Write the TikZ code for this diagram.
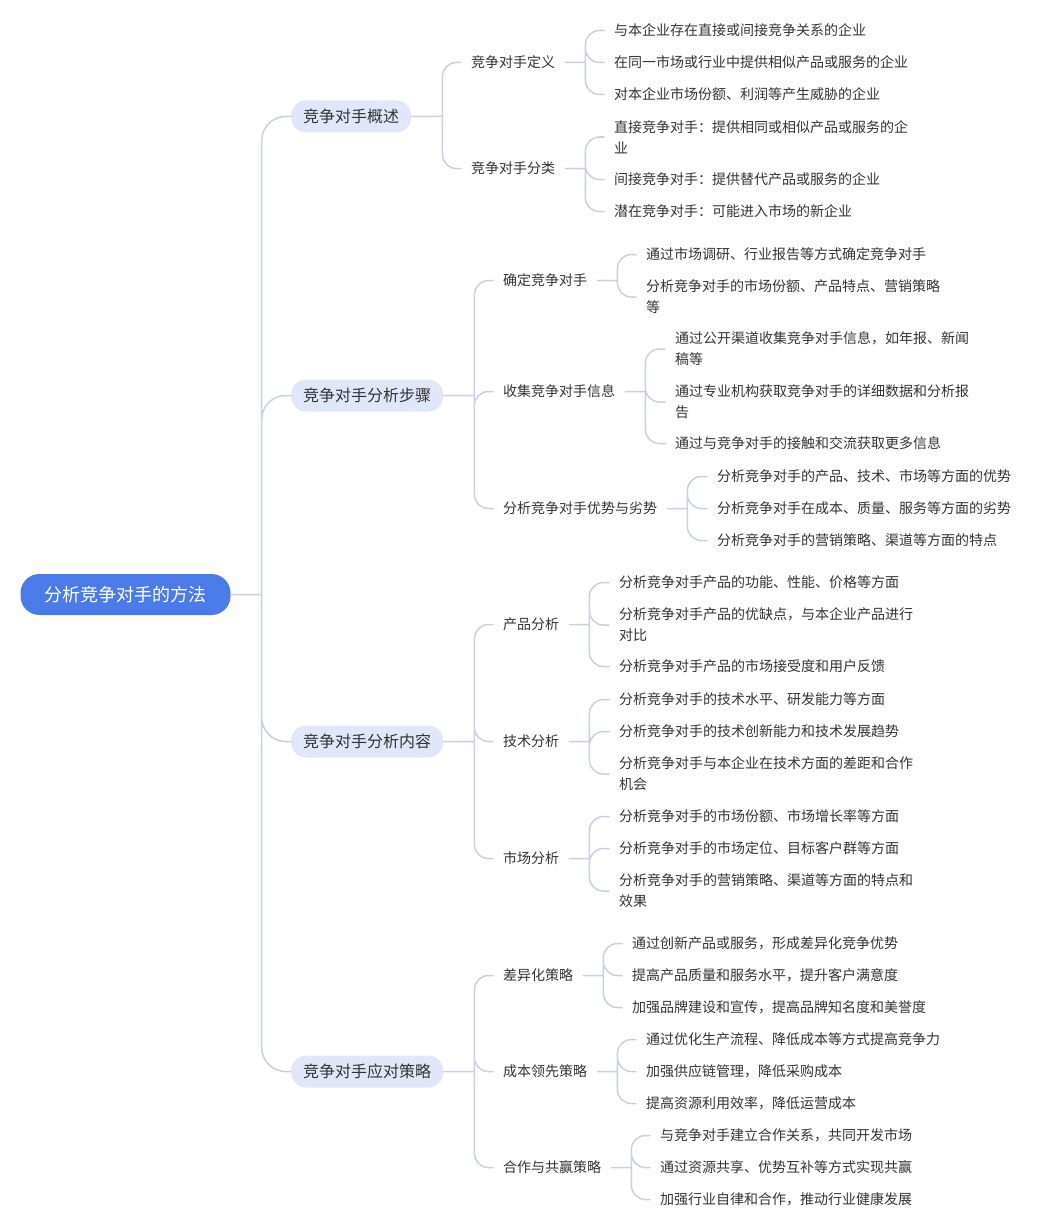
\documentclass[tikz,border=0pt]{standalone}
\usepackage{fontspec}
\setmainfont{Noto Sans CJK SC}
\usetikzlibrary{positioning, calc}
\definecolor{rootblue}{HTML}{4A7BE9}
\definecolor{topicfill}{HTML}{E1E6F9}
\definecolor{linkgray}{HTML}{C9D0E3}
\definecolor{inkgray}{HTML}{333333}

\tikzset{
  rootnode/.style={rounded corners=19pt, fill=rootblue, text=white, minimum height=41pt, inner xsep=24pt, font=\fontsize{18}{22}\selectfont},
  topic/.style={rounded corners=15pt, fill=topicfill, text=inkgray, minimum height=32pt, inner xsep=12pt, anchor=west, font=\fontsize{16}{20}\selectfont},
  subtopic/.style={text=inkgray, inner xsep=10pt, inner ysep=2pt, anchor=west, font=\fontsize{14}{21}\selectfont},
  leaf/.style={text=inkgray, inner xsep=10pt, inner ysep=2pt, anchor=west, align=left, font=\fontsize{14}{21}\selectfont},
  link/.style={draw=linkgray, line width=1.5pt, rounded corners=14pt},
  mainlink/.style={draw=linkgray, line width=1.5pt, rounded corners=24pt}
}

\begin{document}
\begin{tikzpicture}[x=1pt, y=-1pt, line cap=round, line join=round]
  \useasboundingbox (0,0) rectangle (1041,1228);

  % Root
  \node[rootnode] (root) at (125.5,594.5) {分析竞争对手的方法};

  % Main topics
  \node[topic] (ov) at (291,116.5) {竞争对手概述};
  \node[topic] (st) at (291,395.5) {竞争对手分析步骤};
  \node[topic] (ct) at (291,741.5) {竞争对手分析内容};
  \node[topic] (rs) at (291,1071.5) {竞争对手应对策略};

  % Overview
  \node[subtopic] (ovA) at (461,62.5) {竞争对手定义};
  \node[subtopic] (ovB) at (461,168.5) {竞争对手分类};
  \node[leaf] (ovA1) at (604,30.5) {与本企业存在直接或间接竞争关系的企业};
  \node[leaf] (ovA2) at (604,62.5) {在同一市场或行业中提供相似产品或服务的企业};
  \node[leaf] (ovA3) at (604,94.5) {对本企业市场份额、利润等产生威胁的企业};
  \node[leaf] (ovB1) at (604,137) {直接竞争对手：提供相同或相似产品或服务的企\\业};
  \node[leaf] (ovB2) at (604,179.5) {间接竞争对手：提供替代产品或服务的企业};
  \node[leaf] (ovB3) at (604,211.5) {潜在竞争对手：可能进入市场的新企业};

  % Steps
  \node[subtopic] (stA) at (493,280.5) {确定竞争对手};
  \node[subtopic] (stB) at (493,391.5) {收集竞争对手信息};
  \node[subtopic] (stC) at (493,508.5) {分析竞争对手优势与劣势};
  \node[leaf] (stA1) at (636,254.5) {通过市场调研、行业报告等方式确定竞争对手};
  \node[leaf] (stA2) at (636,297) {分析竞争对手的市场份额、产品特点、营销策略\\等};
  \node[leaf] (stB1) at (665,349) {通过公开渠道收集竞争对手信息，如年报、新闻\\稿等};
  \node[leaf] (stB2) at (665,402) {通过专业机构获取竞争对手的详细数据和分析报\\告};
  \node[leaf] (stB3) at (665,443.5) {通过与竞争对手的接触和交流获取更多信息};
  \node[leaf] (stC1) at (707,476.5) {分析竞争对手的产品、技术、市场等方面的优势};
  \node[leaf] (stC2) at (707,508.5) {分析竞争对手在成本、质量、服务等方面的劣势};
  \node[leaf] (stC3) at (707,540.5) {分析竞争对手的营销策略、渠道等方面的特点};

  % Contents
  \node[subtopic] (ctA) at (493,624.5) {产品分析};
  \node[subtopic] (ctB) at (493,741.5) {技术分析};
  \node[subtopic] (ctC) at (493,858.5) {市场分析};
  \node[leaf] (ctA1) at (609,582.5) {分析竞争对手产品的功能、性能、价格等方面};
  \node[leaf] (ctA2) at (609,625) {分析竞争对手产品的优缺点，与本企业产品进行\\对比};
  \node[leaf] (ctA3) at (609,666.5) {分析竞争对手产品的市场接受度和用户反馈};
  \node[leaf] (ctB1) at (609,699.5) {分析竞争对手的技术水平、研发能力等方面};
  \node[leaf] (ctB2) at (609,731.5) {分析竞争对手的技术创新能力和技术发展趋势};
  \node[leaf] (ctB3) at (609,774) {分析竞争对手与本企业在技术方面的差距和合作\\机会};
  \node[leaf] (ctC1) at (609,816.5) {分析竞争对手的市场份额、市场增长率等方面};
  \node[leaf] (ctC2) at (609,848.5) {分析竞争对手的市场定位、目标客户群等方面};
  \node[leaf] (ctC3) at (609,891) {分析竞争对手的营销策略、渠道等方面的特点和\\效果};

  % Responses
  \node[subtopic] (rsA) at (493,975.5) {差异化策略};
  \node[subtopic] (rsB) at (493,1071.5) {成本领先策略};
  \node[subtopic] (rsC) at (493,1167.5) {合作与共赢策略};
  \node[leaf] (rsA1) at (622,943.5) {通过创新产品或服务，形成差异化竞争优势};
  \node[leaf] (rsA2) at (622,975.5) {提高产品质量和服务水平，提升客户满意度};
  \node[leaf] (rsA3) at (622,1007.5) {加强品牌建设和宣传，提高品牌知名度和美誉度};
  \node[leaf] (rsB1) at (636,1039.5) {通过优化生产流程、降低成本等方式提高竞争力};
  \node[leaf] (rsB2) at (636,1071.5) {加强供应链管理，降低采购成本};
  \node[leaf] (rsB3) at (636,1103.5) {提高资源利用效率，降低运营成本};
  \node[leaf] (rsC1) at (650,1135.5) {与竞争对手建立合作关系，共同开发市场};
  \node[leaf] (rsC2) at (650,1167.5) {通过资源共享、优势互补等方式实现共赢};
  \node[leaf] (rsC3) at (650,1199.5) {加强行业自律和合作，推动行业健康发展};

  % Connectors
  \draw[mainlink] (root.east) -- ++(31,0) coordinate (j0)
    (j0) |- (ov.west) (j0) |- (st.west) (j0) |- (ct.west) (j0) |- (rs.west);

  \draw[link] (ov.east) -- ++(31,0) coordinate (jov) (jov) |- (ovA.west) (jov) |- (ovB.west);
  \draw[link] (st.east) -- ++(31,0) coordinate (jst) (jst) |- (stA.west) (jst) |- (stB.west) (jst) |- (stC.west);
  \draw[link] (ct.east) -- ++(31,0) coordinate (jct) (jct) |- (ctA.west) (jct) |- (ctB.west) (jct) |- (ctC.west);
  \draw[link] (rs.east) -- ++(31,0) coordinate (jrs) (jrs) |- (rsA.west) (jrs) |- (rsB.west) (jrs) |- (rsC.west);

  \draw[link] (ovA.east) -- ++(20,0) coordinate (jovA) (jovA) |- (ovA1.west) (jovA) |- (ovA2.west) (jovA) |- (ovA3.west);
  \draw[link] (ovB.east) -- ++(20,0) coordinate (jovB) (jovB) |- (ovB1.west) (jovB) |- (ovB2.west) (jovB) |- (ovB3.west);
  \draw[link] (stA.east) -- ++(20,0) coordinate (jstA) (jstA) |- (stA1.west) (jstA) |- (stA2.west);
  \draw[link] (stB.east) -- ++(20,0) coordinate (jstB) (jstB) |- (stB1.west) (jstB) |- (stB2.west) (jstB) |- (stB3.west);
  \draw[link] (stC.east) -- ++(20,0) coordinate (jstC) (jstC) |- (stC1.west) (jstC) |- (stC2.west) (jstC) |- (stC3.west);
  \draw[link] (ctA.east) -- ++(20,0) coordinate (jctA) (jctA) |- (ctA1.west) (jctA) |- (ctA2.west) (jctA) |- (ctA3.west);
  \draw[link] (ctB.east) -- ++(20,0) coordinate (jctB) (jctB) |- (ctB1.west) (jctB) |- (ctB2.west) (jctB) |- (ctB3.west);
  \draw[link] (ctC.east) -- ++(20,0) coordinate (jctC) (jctC) |- (ctC1.west) (jctC) |- (ctC2.west) (jctC) |- (ctC3.west);
  \draw[link] (rsA.east) -- ++(20,0) coordinate (jrsA) (jrsA) |- (rsA1.west) (jrsA) |- (rsA2.west) (jrsA) |- (rsA3.west);
  \draw[link] (rsB.east) -- ++(20,0) coordinate (jrsB) (jrsB) |- (rsB1.west) (jrsB) |- (rsB2.west) (jrsB) |- (rsB3.west);
  \draw[link] (rsC.east) -- ++(20,0) coordinate (jrsC) (jrsC) |- (rsC1.west) (jrsC) |- (rsC2.west) (jrsC) |- (rsC3.west);
\end{tikzpicture}
\end{document}
